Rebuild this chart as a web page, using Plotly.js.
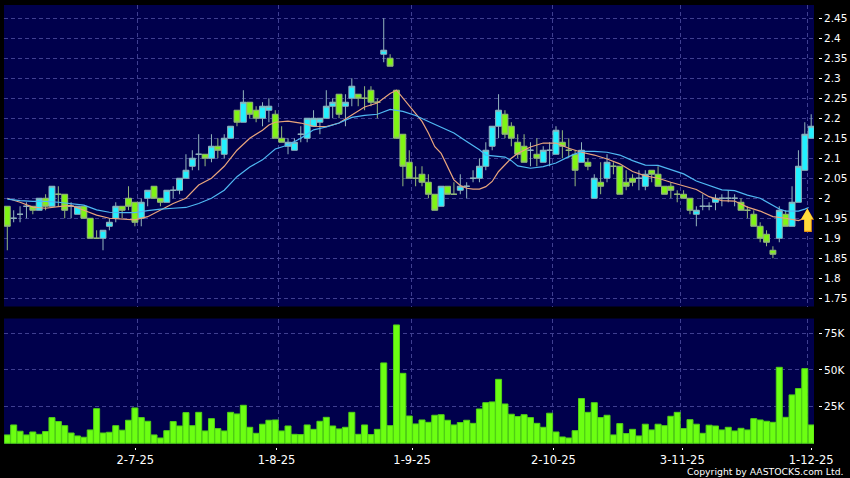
<!DOCTYPE html>
<html>
<head>
<meta charset="utf-8">
<script src="https://cdn.plot.ly/plotly-3.0.1.min.js"></script>
<style>html,body{margin:0;padding:0;background:#000;overflow:hidden}#c{width:850px;height:478px}</style>
</head>
<body>
<div id="c"></div>
<script>
const open_ = [1.98,1.95,1.96,1.98,1.98,1.97,2.00,1.98,2.01,2.01,1.98,1.96,1.98,1.95,1.90,1.90,1.93,1.95,1.98,2.00,
 1.99,1.95,2.00,2.03,2.00,1.99,2.02,2.02,2.05,2.08,2.11,2.11,2.10,2.13,2.11,2.15,2.22,2.19,2.24,2.22,
 2.20,2.22,2.21,2.15,2.13,2.12,2.16,2.15,2.18,2.19,2.20,2.23,2.26,2.23,2.25,2.26,2.25,2.27,2.24,2.36,
 2.35,2.27,2.16,2.09,2.05,2.06,2.04,2.01,1.98,2.03,2.01,2.02,2.03,2.05,2.05,2.08,2.13,2.18,2.21,2.18,
 2.14,2.13,2.12,2.11,2.09,2.12,2.11,2.14,2.12,2.11,2.09,2.09,2.00,2.04,2.05,2.08,2.08,2.04,2.05,2.05,
 2.03,2.07,2.06,2.03,2.03,2.01,2.01,2.00,1.96,1.98,1.98,1.99,2.00,2.00,2.00,1.99,1.97,1.96,1.93,1.91,
 1.87,1.90,1.96,1.93,1.99,2.07,2.15];
const close_ = [1.93,1.95,1.96,1.98,1.97,2.00,1.98,2.03,2.01,1.97,1.98,1.98,1.95,1.90,1.90,1.92,1.94,1.98,1.97,1.98,
 1.94,1.99,2.02,2.00,1.99,2.02,2.02,2.05,2.07,2.10,2.11,2.10,2.13,2.12,2.15,2.18,2.19,2.24,2.21,2.20,
 2.23,2.23,2.15,2.14,2.14,2.14,2.16,2.20,2.20,2.20,2.23,2.24,2.21,2.24,2.28,2.25,2.25,2.24,2.24,2.37,
 2.33,2.15,2.08,2.05,2.05,2.04,2.01,1.97,2.03,2.01,2.01,2.03,2.03,2.05,2.08,2.12,2.18,2.22,2.16,2.15,
 2.11,2.09,2.12,2.10,2.12,2.12,2.17,2.13,2.12,2.07,2.12,2.08,2.05,2.03,2.09,2.08,2.01,2.03,2.04,2.05,
 2.06,2.06,2.03,2.01,2.02,2.01,2.00,1.97,1.97,1.98,1.98,2.00,2.00,2.00,2.00,1.97,1.97,1.93,1.90,1.89,
 1.86,1.97,1.93,1.99,2.08,2.16,2.18];
const high_ = [1.98,1.97,1.98,1.99,1.98,2.00,2.01,2.03,2.03,2.01,1.99,1.98,1.98,1.95,1.92,1.92,1.95,1.99,1.98,2.03,
 1.99,2.00,2.02,2.03,2.00,2.02,2.03,2.05,2.11,2.12,2.16,2.11,2.16,2.15,2.16,2.18,2.22,2.27,2.24,2.23,
 2.24,2.25,2.22,2.18,2.15,2.15,2.18,2.20,2.22,2.20,2.27,2.25,2.26,2.26,2.30,2.26,2.28,2.28,2.25,2.45,
 2.36,2.27,2.16,2.12,2.08,2.08,2.06,2.01,2.03,2.03,2.04,2.06,2.04,2.07,2.10,2.14,2.18,2.26,2.22,2.19,
 2.16,2.16,2.14,2.15,2.13,2.14,2.18,2.17,2.15,2.12,2.14,2.10,2.06,2.09,2.11,2.09,2.08,2.07,2.06,2.07,
 2.07,2.07,2.08,2.03,2.04,2.02,2.02,2.00,1.98,2.01,1.99,2.01,2.01,2.02,2.01,2.00,1.98,1.97,1.94,1.92,
 1.88,1.98,1.97,2.03,2.12,2.19,2.21];
const low_ = [1.87,1.94,1.94,1.95,1.96,1.97,1.97,1.98,1.98,1.95,1.95,1.96,1.95,1.90,1.90,1.87,1.92,1.94,1.95,1.97,
 1.93,1.93,1.98,2.00,1.98,1.99,2.00,2.01,2.05,2.07,2.07,2.08,2.09,2.10,2.10,2.15,2.18,2.19,2.20,2.19,
 2.18,2.19,2.15,2.14,2.11,2.12,2.14,2.14,2.18,2.16,2.20,2.20,2.20,2.18,2.23,2.23,2.22,2.23,2.20,2.34,
 2.33,2.15,2.03,2.05,2.03,2.03,2.00,1.97,1.98,2.01,2.01,2.01,2.00,2.04,2.04,2.07,2.12,2.15,2.15,2.13,
 2.10,2.09,2.08,2.08,2.09,2.08,2.11,2.10,2.10,2.03,2.09,2.07,2.00,2.01,2.04,2.06,2.01,2.02,2.03,2.02,
 2.02,2.04,2.03,2.01,2.00,1.99,2.00,1.96,1.93,1.97,1.97,1.97,1.98,1.99,1.98,1.97,1.95,1.93,1.89,1.88,
 1.85,1.89,1.93,1.93,1.99,2.07,2.15];
const volumeK = [5.7,12.5,8.2,5.7,7.7,6.1,8.0,17.5,14.8,12.0,7.0,5.0,4.1,9.1,23.6,7.0,7.5,12.0,8.9,15.7,
 24.1,17.5,15.0,5.7,3.6,8.6,14.8,11.8,20.9,12.0,21.1,8.4,16.8,10.0,8.4,21.1,20.0,25.9,10.9,6.8,
 13.0,15.7,15.9,8.4,11.8,6.1,5.9,12.5,9.5,15.0,17.7,11.8,9.8,10.9,21.1,6.1,12.5,5.9,9.5,54.8,
 12.0,80.7,47.7,18.6,13.2,15.9,14.3,19.1,19.5,15.7,12.5,14.1,15.7,13.6,23.4,27.7,28.2,43.6,26.8,19.8,
 18.2,19.5,17.5,13.6,10.9,20.5,7.7,4.3,3.6,8.6,30.5,21.1,27.7,17.5,19.1,5.7,13.4,6.6,9.5,5.0,
 13.0,9.1,13.0,12.0,18.4,21.1,10.0,16.1,13.0,6.8,12.3,11.8,9.1,10.9,8.4,10.2,9.1,16.8,15.9,15.0,
 14.3,51.8,17.7,33.0,37.3,50.9,12.5];
const ma10Idx = [0,2,4,6,8,10,12,14,16,18,20,22,24,26,28,30,32,34,36,38,40,41,42,44,46,48,50,52,54,56,58,60,61,62,64,65,66,67,68,69,70,71,72,73,74,75,76,77,78,79,80,82,84,86,88,90,92,94,96,98,100,102,104,106,108,110,112,114,116,118,120,122,124,125,125.6];
const ma10 = [2.0,1.99,1.978,1.975,1.979,1.982,1.97,1.958,1.95,1.948,1.946,1.954,1.971,1.987,2.0,2.033,2.05,2.08,2.12,2.15,2.17,2.183,2.19,2.193,2.188,2.18,2.179,2.188,2.208,2.228,2.238,2.262,2.27,2.25,2.212,2.192,2.163,2.129,2.112,2.079,2.046,2.032,2.025,2.023,2.023,2.029,2.042,2.067,2.083,2.1,2.112,2.128,2.138,2.138,2.125,2.115,2.108,2.098,2.086,2.067,2.056,2.05,2.04,2.031,2.022,2.004,1.994,1.993,1.978,1.968,1.954,1.95,1.944,1.95,1.96];
const ma20Idx = [0,2,4,6,8,10,12,14,16,18,20,22,24,26,28,30,32,34,36,38,40,42,44,46,48,50,52,54,56,58,60,62,64,66,68,70,72,74,75,76,78,79,80,82,84,86,88,90,92,94,96,98,100,102,104,106,108,110,112,114,116,118,120,121,122,124,125,125.6];
const ma20 = [1.998,1.994,1.992,1.992,1.99,1.987,1.983,1.971,1.965,1.964,1.964,1.969,1.973,1.975,1.977,1.987,2.0,2.02,2.054,2.078,2.096,2.123,2.133,2.15,2.171,2.178,2.188,2.202,2.207,2.21,2.222,2.217,2.207,2.192,2.178,2.163,2.142,2.121,2.108,2.106,2.103,2.094,2.081,2.075,2.079,2.088,2.104,2.117,2.117,2.115,2.108,2.094,2.083,2.082,2.071,2.061,2.043,2.031,2.021,2.019,2.008,2.0,1.981,1.973,1.968,1.968,1.973,1.977];
const priceTicks = [1.75,1.8,1.85,1.9,1.95,2,2.05,2.1,2.15,2.2,2.25,2.3,2.35,2.4,2.45];
const volumeTicks = [25,50,75];
const volumeTickLabels = ['25K','50K','75K'];
const dateLabels = ['2-7-25','1-8-25','1-9-25','2-10-25','3-11-25','1-12-25'];
const dateLabelIdx = [20.06,42.2,63.45,85.6,105.8,126];
const dateGridIdx = [20.38,42.48,63.43,85.42,105.55,125.39];

const idx = volumeK.map((_, i) => i);
const xRange = [-0.517, 126.44];
const priceRange = [1.7295, 2.483];
const volRange = [-0.5, 85.1];
const gridCol = '#3f3f90';
const tickFont = {family: 'DejaVu Sans', size: 10.5, color: '#ffffff'};

const traces = [
  {type: 'candlestick', x: idx, open: open_, high: high_, low: low_, close: close_,
   xaxis: 'x', yaxis: 'y', whiskerwidth: 0, hoverinfo: 'skip',
   increasing: {line: {color: '#92b4bc', width: 1}, fillcolor: '#22f0ff'},
   decreasing: {line: {color: '#94b87c', width: 1}, fillcolor: '#80f414'}},
  {type: 'scatter', mode: 'lines', x: ma10Idx, y: ma10, xaxis: 'x', yaxis: 'y',
   line: {color: '#e8a47c', width: 1.2}, hoverinfo: 'skip'},
  {type: 'scatter', mode: 'lines', x: ma20Idx, y: ma20, xaxis: 'x', yaxis: 'y',
   line: {color: '#4fb8f2', width: 1.2}, hoverinfo: 'skip'},
  {type: 'bar', x: idx, y: volumeK, xaxis: 'x2', yaxis: 'y2',
   marker: {color: '#6cff12', line: {color: '#4fd016', width: 1}}, hoverinfo: 'skip'},
  {type: 'scatter', mode: 'none', x: [0], y: [2], xaxis: 'x', yaxis: 'y3', hoverinfo: 'skip'},
  {type: 'scatter', mode: 'none', x: [0], y: [25], xaxis: 'x2', yaxis: 'y4', hoverinfo: 'skip'},
  {type: 'scatter', mode: 'none', x: [0], y: [25], xaxis: 'x3', yaxis: 'y2', hoverinfo: 'skip'}
];

const gridAxisX = {range: xRange, tickmode: 'array', tickvals: dateGridIdx, ticks: '', showticklabels: false,
  showgrid: true, gridcolor: gridCol, griddash: '4px,3px', gridwidth: 1, zeroline: false, showline: false,
  domain: [4 / 850, 814 / 850], fixedrange: true};

const layout = {
  width: 850, height: 478, autosize: false,
  margin: {l: 0, r: 0, t: 0, b: 0, pad: 0},
  paper_bgcolor: '#000000', plot_bgcolor: '#00004c',
  showlegend: false, hovermode: false, bargap: 0.06, boxgap: 0.08, boxgroupgap: 0, dragmode: false,
  xaxis: Object.assign({}, gridAxisX, {anchor: 'y', rangeslider: {visible: false}}),
  xaxis2: Object.assign({}, gridAxisX, {anchor: 'y2'}),
  xaxis3: {overlaying: 'x2', anchor: 'free', position: 31 / 478, side: 'bottom', range: xRange,
    domain: [4 / 850, 814 / 850], tickmode: 'array', tickvals: dateLabelIdx, ticktext: dateLabels,
    ticks: 'outside', ticklen: 2, tickcolor: '#ffffff', tickwidth: 1, showgrid: false, zeroline: false, showline: false,
    tickfont: {family: 'DejaVu Sans', size: 11.5, color: '#ffffff'}, fixedrange: true},
  yaxis: {domain: [1 - 306.5 / 478, 1 - 5 / 478], range: priceRange, anchor: 'x', tickmode: 'array', tickvals: priceTicks,
    showticklabels: false, ticks: '', showgrid: true, gridcolor: gridCol, griddash: '4px,3px', zeroline: false, fixedrange: true},
  yaxis2: {domain: [1 - 444 / 478, 1 - 318.5 / 478], range: volRange, anchor: 'x2', tickmode: 'array', tickvals: volumeTicks,
    showticklabels: false, ticks: '', showgrid: true, gridcolor: gridCol, griddash: '4px,3px', zeroline: false, fixedrange: true},
  yaxis3: {overlaying: 'y', anchor: 'free', position: 818 / 850, side: 'right', range: priceRange,
    tickmode: 'array', tickvals: priceTicks, ticktext: priceTicks.map(String), ticks: 'outside', ticklen: 3,
    tickcolor: '#ffffff', showgrid: false, zeroline: false, showline: false, tickfont: tickFont, fixedrange: true},
  yaxis4: {overlaying: 'y2', anchor: 'free', position: 818 / 850, side: 'right', range: volRange,
    tickmode: 'array', tickvals: volumeTicks, ticktext: volumeTickLabels, ticks: 'outside', ticklen: 3,
    tickcolor: '#ffffff', showgrid: false, zeroline: false, showline: false, tickfont: tickFont, fixedrange: true},
  shapes: [
    {type: 'path', xref: 'x', yref: 'y', layer: 'above', line: {width: 0}, fillcolor: '#e8930f',
     path: 'M125.4,1.975 L126.44,1.946 L126.1,1.946 L126.1,1.916 L124.9,1.916 L124.9,1.946 L124.35,1.946 Z'},
    {type: 'path', xref: 'x', yref: 'y', layer: 'above', line: {width: 0}, fillcolor: '#ffdc3c',
     path: 'M125.4,1.974 L126.28,1.948 L125.95,1.948 L125.95,1.919 L124.93,1.919 L124.93,1.947 L124.4,1.947 Z'}
  ],
  annotations: [
    {xref: 'paper', yref: 'paper', x: 846 / 850, y: 1 - 471.5 / 478, xanchor: 'right', yanchor: 'middle', showarrow: false,
     text: 'Copyright by AASTOCKS.com Ltd.', font: {family: 'DejaVu Sans', size: 9.3, color: '#ffffff'}}
  ]
};

Plotly.newPlot('c', traces, layout, {displayModeBar: false, staticPlot: true});
</script>
</body>
</html>
